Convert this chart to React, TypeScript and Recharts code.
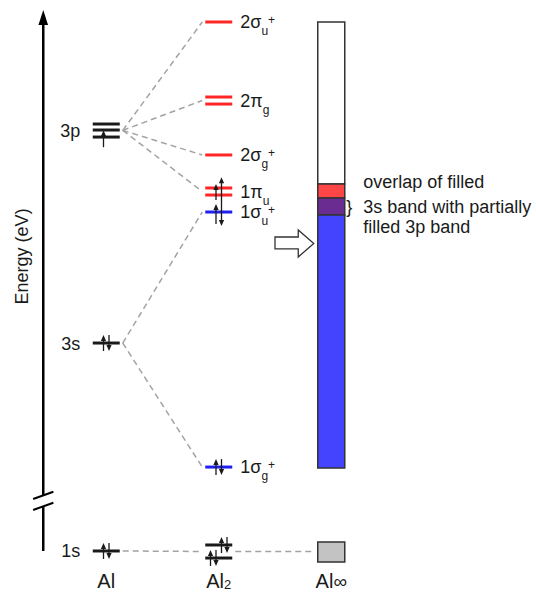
import React from 'react';
import { ComposedChart, XAxis, YAxis, Scatter, ReferenceLine, ReferenceArea, ReferenceDot } from 'recharts';

// ---------- data ----------
const COLUMNS = [
  { x: 1, name: 'Al', sub: '' },
  { x: 2, name: 'Al', sub: '2' },
  { x: 3, name: 'Al', sub: '∞' },
];

// Al atomic orbitals (energy in arbitrary eV-like units; degenerate sub-levels listed separately)
const AL_ORBITALS = [
  { label: '1s', energies: [1.64] },
  { label: '3s', energies: [39.45] },
  { label: '3p', energies: [79.27, 78.18, 76.9] },
];

// Al2 molecular orbitals (origin: parent atomic orbital)
const AL2_ORBITALS = [
  { id: '1s', main: '', sub: '', sup: '', origin: '1s', energies: [2.73, 0.36] },
  { id: '1σg+', main: '1σ', sub: 'g', sup: '+', origin: '3s', energies: [16.9] },
  { id: '1σu+', main: '1σ', sub: 'u', sup: '+', origin: '3s', energies: [63.27] },
  { id: '1πu', main: '1π', sub: 'u', sup: '', origin: '3p', energies: [67.64, 66.36] },
  { id: '2σg+', main: '2σ', sub: 'g', sup: '+', origin: '3p', energies: [73.64] },
  { id: '2πg', main: '2π', sub: 'g', sup: '', origin: '3p', energies: [84.18, 82.9] },
  { id: '2σu+', main: '2σ', sub: 'u', sup: '+', origin: '3p', energies: [97.82] },
];

// correlation lines: atomic orbital -> molecular orbital
const CORRELATIONS = [
  ['3p', '2σu+'], ['3p', '2πg'], ['3p', '2σg+'], ['3p', '1πu'],
  ['3s', '1σu+'], ['3s', '1σg+'], ['1s', '1s'],
];

// electrons: column, energy at arrow centre, spin, slot (order left->right), optional length
const ELECTRONS = [
  { col: 1, e: 1.64, spin: 'up', slot: -0.5 }, { col: 1, e: 1.64, spin: 'down', slot: 0.5 },
  { col: 1, e: 39.45, spin: 'up', slot: -0.5 }, { col: 1, e: 39.45, spin: 'down', slot: 0.5 },
  { col: 1, e: 76.6, spin: 'up', slot: -0.5, len: 17 },
  { col: 2, e: 2.73, spin: 'up', slot: 0.5 }, { col: 2, e: 2.73, spin: 'down', slot: 1.5 },
  { col: 2, e: 0.36, spin: 'up', slot: -1.5 }, { col: 2, e: 0.36, spin: 'down', slot: -0.5 },
  { col: 2, e: 16.9, spin: 'up', slot: -0.5 }, { col: 2, e: 16.9, spin: 'down', slot: 0.5 },
  { col: 2, e: 62.9, spin: 'up', slot: -0.5, len: 20 },
  { col: 2, e: 66.9, spin: 'up', slot: -0.5, len: 16 },
  { col: 2, e: 67.5, spin: 'up', slot: 0.5, len: 23 },
  { col: 2, e: 63.1, spin: 'down', slot: 0.5, len: 26 },
];

// Al∞ band structure
const BAND_TOP = 97.82;
const BAND_3P_FILLED_TOP = 68.36;
const BAND_OVERLAP_TOP = 65.82;
const BAND_OVERLAP_BOTTOM = 62.73;
const BAND_BOTTOM = 16.73;
const CORE_BAND = [-0.36, 3.27];
const POINTER_ENERGY = [55.1, 60.0];

const NOTE_LINES = ['overlap of filled', '3s band with partially', 'filled 3p band'];
const AXIS_TITLE = 'Energy (eV)';

// ---------- layout / style ----------
const W = 536;
const H = 592;
const MARGIN = { top: 10, right: 36, bottom: 0, left: 50 };
const X_AXIS_H = 21;
const X_DOMAIN: [number, number] = [0.5, 4.5];
const Y_DOMAIN: [number, number] = [-2, 100];
const PX_PER_COL = (W - MARGIN.left - MARGIN.right) / (X_DOMAIN[1] - X_DOMAIN[0]);
const LEVEL_HALF_PX = 13.5;
const LEVEL_HALF = LEVEL_HALF_PX / PX_PER_COL;
const GAP = 3 / PX_PER_COL;
const SLOT_PX = 5.5;
const AXIS_COL = 0.44;
const FONT = '"Liberation Sans", Arial, sans-serif';
const INK = '#1a1a1a';
const ATOM_COLOR = '#1a1a1a';
const MO_COLORS: Record<string, string> = {
  '1s': '#1a1a1a',
  '3s': '#1f1fef',
  '3p': '#ff2626',
};
const BAND_COLORS = { empty: '#ffffff', p: '#ff4646', overlap: '#6a2c90', s: '#4444ff', core: '#c3c3c3' };
const DASH = { stroke: '#a3a3a3', strokeWidth: 1.5, strokeDasharray: '6 4' };

const mean = (a: number[]) => a.reduce((s, v) => s + v, 0) / a.length;

const levelPoints = [
  ...AL_ORBITALS.flatMap((o) => o.energies.map((e) => ({ x: 1, y: e, color: ATOM_COLOR }))),
  ...AL2_ORBITALS.flatMap((o) => o.energies.map((e) => ({ x: 2, y: e, color: MO_COLORS[o.origin] }))),
];
const alLabelPoints = AL_ORBITALS.map((o) => ({ x: 1, y: mean(o.energies), label: o.label }));
const al2LabelPoints = AL2_ORBITALS.filter((o) => o.main).map((o) => ({ x: 2, y: mean(o.energies), main: o.main, sub: o.sub, sup: o.sup }));
const electronPoints = ELECTRONS.map((el) => ({ x: el.col, y: el.e, spin: el.spin, slot: el.slot, len: el.len }));

const alE = (label: string) => mean(AL_ORBITALS.find((o) => o.label === label)!.energies);
const al2E = (id: string) => mean(AL2_ORBITALS.find((o) => o.id === id)!.energies);

const LevelLine = (p: any) => (
  <line x1={p.cx - LEVEL_HALF_PX} x2={p.cx + LEVEL_HALF_PX} y1={p.cy} y2={p.cy} stroke={p.payload.color} strokeWidth={3} />
);

const AlLabel = (p: any) => (
  <text x={p.cx - 26} y={p.cy + 6.5} textAnchor="end" fontSize={18} fontFamily={FONT} fill={INK}>
    {p.payload.label}
  </text>
);

const MoLabel = (p: any) => (
  <text x={p.cx + 21.5} y={p.cy + 6} fontSize={18} fontFamily={FONT} fill={INK}>
    {p.payload.main}
    <tspan fontSize={12} dy={7}>{p.payload.sub}</tspan>
    {p.payload.sup ? <tspan fontSize={12} dy={-11}>{p.payload.sup}</tspan> : null}
  </text>
);

const ElectronArrow = (p: any) => {
  const { cx, cy, payload } = p;
  const x = cx + payload.slot * SLOT_PX;
  const half = (payload.len ?? 16) / 2;
  const up = payload.spin === 'up';
  const tail = up ? cy + half : cy - half;
  const head = up ? cy - half : cy + half;
  const s = up ? 1 : -1;
  return (
    <g>
      <line x1={x} y1={tail} x2={x} y2={head + s * 4} stroke={INK} strokeWidth={1.3} />
      <path d={`M${x},${head} L${x - 2.6},${head + s * 6} L${x + 2.6},${head + s * 6} Z`} fill={INK} />
    </g>
  );
};

const AxisHead = (p: any) => (
  <path d={`M${p.cx},${p.cy} L${p.cx - 4.8},${p.cy + 15} L${p.cx + 4.8},${p.cy + 15} Z`} fill="#000" />
);

const AxisTitle = (p: any) => {
  const x = p.cx - 15;
  return (
    <text x={x} y={p.cy} transform={`rotate(-90, ${x}, ${p.cy})`} textAnchor="middle" fontSize={18} fontFamily={FONT} fill={INK}>
      {AXIS_TITLE}
    </text>
  );
};

const HollowArrow = (p: any) => {
  const { x, y, width, height } = p;
  const shaftTop = y + height * 0.26;
  const shaftBot = y + height * 0.7;
  const neck = x + width * 0.6;
  return (
    <path
      d={`M${x},${shaftTop} L${neck},${shaftTop} L${neck},${y} L${x + width},${y + height / 2} L${neck},${y + height} L${neck},${shaftBot} L${x},${shaftBot} Z`}
      fill="#fff"
      stroke="#333"
      strokeWidth={1.3}
    />
  );
};

const Notes = (p: any) => {
  const x = p.cx + 32;
  return (
    <g fontFamily={FONT} fontSize={18} fill={INK}>
      <text x={x} y={p.cy - 18}>{NOTE_LINES[0]}</text>
      <text x={p.cx + 15} y={p.cy + 6.5}>{'}'}</text>
      <text x={x} y={p.cy + 6.5}>{NOTE_LINES[1]}</text>
      <text x={x} y={p.cy + 27}>{NOTE_LINES[2]}</text>
    </g>
  );
};

const ColumnTick = (p: any) => {
  const col = COLUMNS.find((c) => c.x === p.payload.value);
  if (!col) return null;
  return (
    <text x={p.x} y={p.y + 17} textAnchor="middle" fontSize={20} fontFamily={FONT} fill={INK}>
      {col.name}
      {col.sub === '∞' ? (
        <tspan fontSize={19}>{col.sub}</tspan>
      ) : (
        <tspan fontSize={13} dy={1}>{col.sub}</tspan>
      )}
    </text>
  );
};

const bandSegments = [
  { y1: BAND_3P_FILLED_TOP, y2: BAND_TOP, fill: BAND_COLORS.empty },
  { y1: BAND_OVERLAP_TOP, y2: BAND_3P_FILLED_TOP, fill: BAND_COLORS.p },
  { y1: BAND_OVERLAP_BOTTOM, y2: BAND_OVERLAP_TOP, fill: BAND_COLORS.overlap },
  { y1: BAND_BOTTOM, y2: BAND_OVERLAP_BOTTOM, fill: BAND_COLORS.s },
  { y1: CORE_BAND[0], y2: CORE_BAND[1], fill: BAND_COLORS.core },
];

export default function App() {
  const x1 = 1 + LEVEL_HALF + GAP;
  const x2 = 2 - LEVEL_HALF - GAP;
  const core2 = al2E('1s');
  return (
    <div style={{ position: 'absolute', left: 0, top: 0, width: W, height: H, background: '#fff' }}>
      <ComposedChart width={W} height={H} margin={MARGIN}>
        <XAxis
          type="number"
          dataKey="x"
          domain={X_DOMAIN}
          ticks={COLUMNS.map((c) => c.x)}
          allowDataOverflow
          axisLine={false}
          tickLine={false}
          tickSize={0}
          tickMargin={0}
          height={X_AXIS_H}
          tick={<ColumnTick />}
          interval={0}
        />
        <YAxis type="number" dataKey="y" domain={Y_DOMAIN} allowDataOverflow hide />

        {/* energy axis with break */}
        <ReferenceLine segment={[{ x: AXIS_COL, y: 11.8 }, { x: AXIS_COL, y: 98 }]} stroke="#000" strokeWidth={2.5} ifOverflow="visible" />
        <ReferenceLine segment={[{ x: AXIS_COL, y: 1.64 }, { x: AXIS_COL, y: 9.8 }]} stroke="#000" strokeWidth={2.5} ifOverflow="visible" />
        <ReferenceLine segment={[{ x: 0.35, y: 11.1 }, { x: 0.53, y: 12.4 }]} stroke="#000" strokeWidth={2} ifOverflow="visible" />
        <ReferenceLine segment={[{ x: 0.35, y: 9.1 }, { x: 0.53, y: 10.4 }]} stroke="#000" strokeWidth={2} ifOverflow="visible" />
        <ReferenceDot x={AXIS_COL} y={100} r={0} ifOverflow="visible" shape={<AxisHead />} />
        <ReferenceDot x={AXIS_COL} y={55.2} r={0} ifOverflow="visible" shape={<AxisTitle />} />

        {/* correlation lines */}
        {CORRELATIONS.map(([a, m], i) => (
          <ReferenceLine key={'c' + i} segment={[{ x: x1, y: alE(a) }, { x: x2, y: al2E(m) }]} {...DASH} ifOverflow="visible" />
        ))}
        <ReferenceLine
          segment={[{ x: 2 + LEVEL_HALF + GAP, y: core2 }, { x: 3 - LEVEL_HALF - GAP, y: core2 }]}
          {...DASH}
          ifOverflow="visible"
        />

        {/* band */}
        {bandSegments.map((b, i) => (
          <ReferenceArea
            key={'b' + i}
            x1={3 - LEVEL_HALF}
            x2={3 + LEVEL_HALF}
            y1={b.y1}
            y2={b.y2}
            fill={b.fill}
            fillOpacity={1}
            stroke="#333"
            strokeWidth={1.5}
            ifOverflow="visible"
          />
        ))}
        <ReferenceArea
          x1={2.5}
          x2={3 - LEVEL_HALF - 4 / PX_PER_COL}
          y1={POINTER_ENERGY[0]}
          y2={POINTER_ENERGY[1]}
          ifOverflow="visible"
          shape={<HollowArrow />}
        />
        <ReferenceDot x={3} y={(BAND_OVERLAP_TOP + BAND_OVERLAP_BOTTOM) / 2} r={0} ifOverflow="visible" shape={<Notes />} />

        <Scatter data={levelPoints} shape={<LevelLine />} isAnimationActive={false} />
        <Scatter data={electronPoints} shape={<ElectronArrow />} isAnimationActive={false} />
        <Scatter data={alLabelPoints} shape={<AlLabel />} isAnimationActive={false} />
        <Scatter data={al2LabelPoints} shape={<MoLabel />} isAnimationActive={false} />
      </ComposedChart>
    </div>
  );
}
